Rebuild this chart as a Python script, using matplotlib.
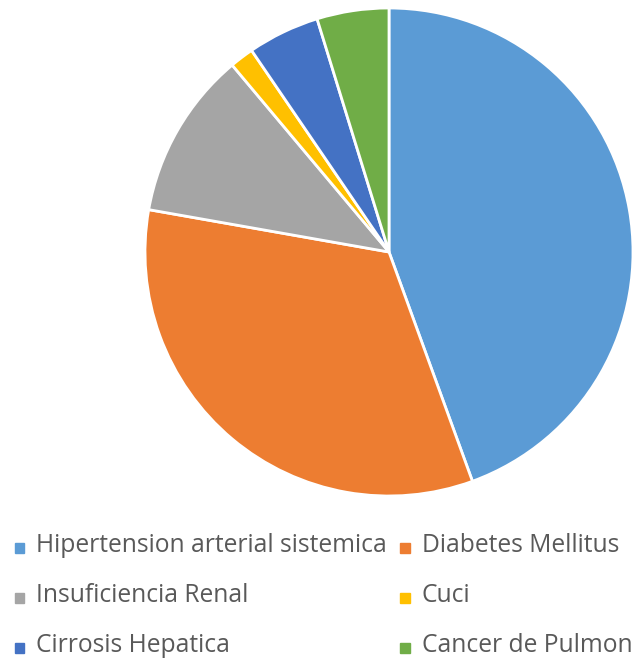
import matplotlib.pyplot as plt
from matplotlib.patches import Rectangle

labels = ['Hipertension arterial sistemica', 'Diabetes Mellitus', 'Insuficiencia Renal',
          'Cuci', 'Cirrosis Hepatica', 'Cancer de Pulmon']
counts = [28, 21, 7, 1, 3, 3]
colors = ['#5B9BD5', '#ED7D31', '#A5A5A5', '#FFC000', '#4472C4', '#70AD47']

W, H = 634, 658
fig = plt.figure(figsize=(W / 100, H / 100), dpi=100)

# pie centre (389, 252) px, radius 244 px
cx, cy, r = 389, 252, 244
ax = fig.add_axes([(cx - r) / W, (H - cy - r) / H, 2 * r / W, 2 * r / H])
ax.pie(counts, colors=colors, startangle=90, counterclock=False,
       wedgeprops=dict(edgecolor='white', linewidth=2))
ax.set_xlim(-1, 1)
ax.set_ylim(-1, 1)
ax.set_aspect('equal')
ax.axis('off')

# legend, two columns, laid out row by row (pixel positions of the markers)
col_x = [19.5, 405]
row_y = [547.5, 597.5, 647.5]
for i, (lab, c) in enumerate(zip(labels, colors)):
    x = col_x[i % 2]
    y = row_y[i // 2]
    fig.add_artist(Rectangle(((x - 5) / W, (H - y - 5) / H), 10 / W, 10 / H,
                             transform=fig.transFigure, color=c))
    # baseline sits on the bottom of the marker
    fig.text((x + 16.5) / W, (H - y - 4.5) / H, lab, fontsize=17.7, color='#595959',
             va='baseline', ha='left', family='Open Sans')

fig.savefig('out.png')
